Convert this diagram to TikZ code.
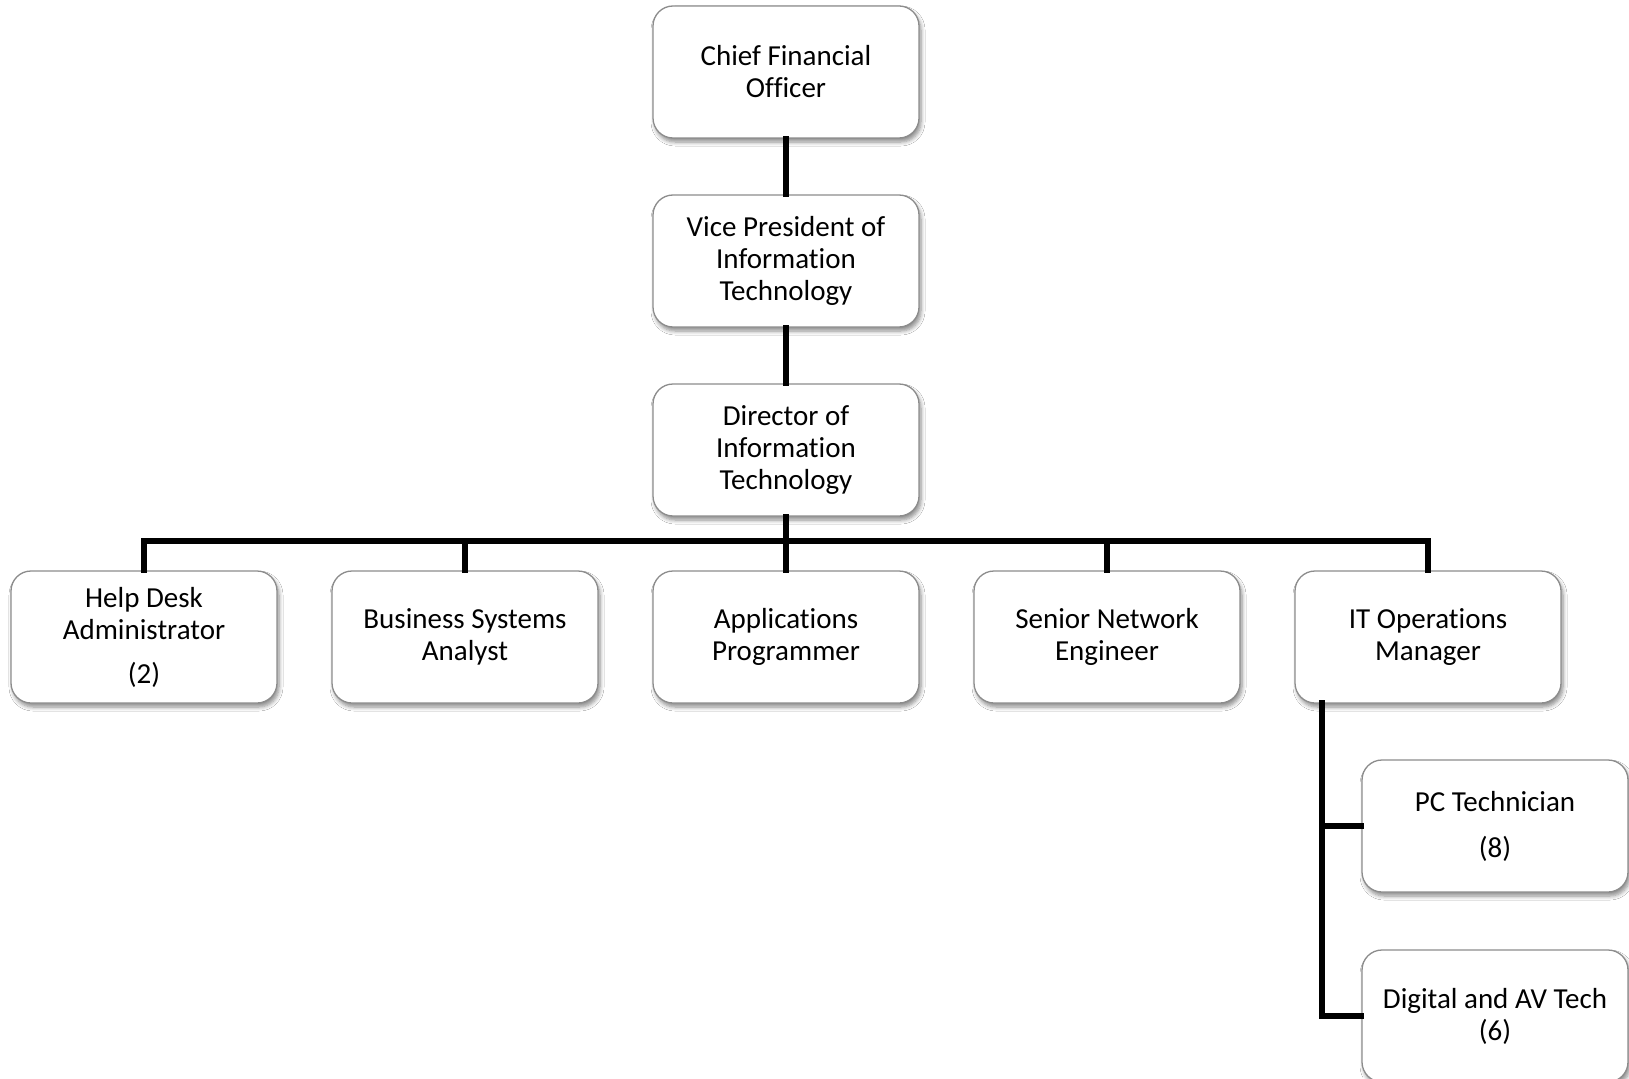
\documentclass[tikz,border=0pt]{standalone}
\usepackage{fontspec}
\setmainfont{Carlito}[Ligatures=NoCommon]
\usetikzlibrary{shadows,shadows.blur}
\begin{document}
\begin{tikzpicture}[x=1pt,y=-1pt,
  box/.style={draw=black!45,line width=1.3pt,fill=white,rounded corners=20pt,
    minimum width=266pt,minimum height=132pt,align=center,inner sep=0pt,
    font=\fontsize{29}{32}\selectfont,
    blur shadow={shadow xshift=2pt,shadow yshift=-4pt,shadow blur steps=6,shadow blur radius=4pt,shadow opacity=45}},
  link/.style={line width=6pt,line join=miter,line cap=rect}]
\clip (0,0) rectangle (1629,1078);
\fill[white] (0,0) rectangle (1629,1078);
\node[box] (cfo) at (786,72) {Chief Financial\\Officer};
\node[box] (vp) at (786,261) {Vice President of\\Information\\Technology};
\node[box] (dir) at (786,450) {Director of\\Information\\Technology};
\node[box] (help) at (144,637) {Help Desk\\Administrator\\[12pt](2)};
\node[box] (bsa) at (465,637) {Business Systems\\Analyst};
\node[box] (app) at (786,637) {Applications\\Programmer};
\node[box] (sne) at (1107,637) {Senior Network\\Engineer};
\node[box] (itops) at (1428,637) {IT Operations\\Manager};
\node[box] (pc) at (1495,826) {PC Technician\\[14pt](8)};
\node[box] (dig) at (1495,1016) {Digital and AV Tech\\(6)};
\coordinate (bar) at (786,541);
\coordinate (itbr) at (1322,703);
\draw[link] (cfo.south) -- (vp.north);
\draw[link] (vp.south) -- (dir.north);
\draw[link] (dir.south) -- (app.north);
\draw[link] (help.north) |- (bar);
\draw[link] (sne.north) -- (sne.north |- bar);
\draw[link] (bsa.north) -- (bsa.north |- bar);
\draw[link] (itops.north) |- (bar);
\draw[link] (itbr) |- (pc.west);
\draw[link] (itbr) |- (dig.west);
\end{tikzpicture}
\end{document}
